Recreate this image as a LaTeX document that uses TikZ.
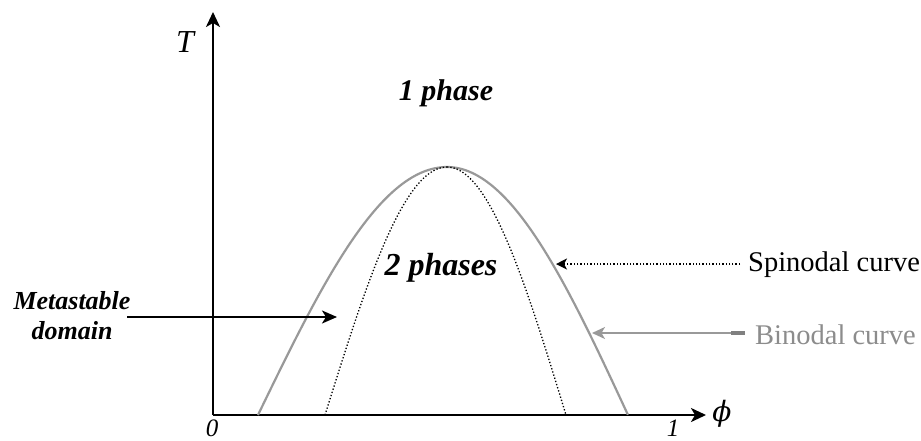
\documentclass[tikz,border=0pt]{standalone}
\usepackage{fontspec}
\setmainfont{Liberation Serif}
\newfontfamily\phifont{DejaVu Serif}
\usetikzlibrary{arrows.meta}
\definecolor{bingray}{gray}{0.6}
\definecolor{bintext}{gray}{0.55}
\tikzset{
  axis/.style={line width=2.2pt, black, -{Stealth[length=15pt,width=14pt,inset=4pt]}},
  bincurve/.style={line width=2.2pt, bingray},
  spincurve/.style={line width=1.3pt, black, dotted},
  lbl/.style={inner sep=0pt, font=\fontsize{30}{32}\selectfont\bfseries\itshape},
  side/.style={inner sep=0pt, font=\fontsize{28.5}{30}\selectfont},
  tick/.style={inner sep=0pt, font=\fontsize{25}{27}\selectfont\itshape},
}
\begin{document}
\begin{tikzpicture}[x=1pt,y=-1pt]
\useasboundingbox (0,0) rectangle (921,440);
% axes
\coordinate (O) at (213,415);
\coordinate (Ytip) at (213,12);
\coordinate (Xtip) at (706,415);
\draw[axis] (O) -- (Ytip);
\draw[axis] (O) -- (Xtip);
\node[inner sep=0pt, font=\fontsize{32}{34}\selectfont\itshape] (T) at (185,42) {T};
\node[inner sep=0pt, font=\fontsize{28}{30}\phifont\itshape] (phi) at (722,414) {ϕ};
\node[tick, anchor=base] (zero) at (212,436) {0};
\node[tick, anchor=base] (one) at (673,436) {1};
% binodal curve
\draw[bincurve] plot[domain=-1:0, samples=60, smooth] ({447+189*\x},{415-248*cos(90*\x)});
\draw[bincurve] plot[domain=0:1, samples=60, smooth] ({447+181*\x},{415-248*cos(90*\x)});
% spinodal curve
\draw[spincurve] plot[domain=-1:0, samples=60, smooth] ({447+122*\x},{415-248*cos(90*\x)});
\draw[spincurve] plot[domain=0:1, samples=60, smooth] ({447+119*\x},{415-248*cos(90*\x)});
% labels
\node[lbl] (onep) at (446,93) {1 phase};
\node[lbl, font=\fontsize{32}{34}\selectfont\bfseries\itshape] (two) at (441,268) {2 phases};
\node[lbl, align=center, font=\fontsize{26}{30}\selectfont\bfseries\itshape] (meta) at (72,316) {Metastable\\domain};
\node[side, anchor=west] (spin) at (748,265) {Spinodal curve};
\node[side, anchor=west, text=bintext] (bin) at (755,335) {Binodal curve};
% arrows
\coordinate (metaS) at (127,317);
\coordinate (metaT) at (337,317);
\draw[line width=2pt, -{Stealth[length=15pt,width=13pt,inset=4pt]}] (metaS) -- (metaT);
\coordinate (spinS) at (740,264);
\coordinate (spinT) at (556,264);
\draw[line width=1.3pt, dotted, -{Stealth[length=11pt,width=11pt,inset=3pt]}] (spinS) -- (spinT);
\coordinate (binS) at (745,333);
\coordinate (binM) at (731,333);
\coordinate (binT) at (592,333);
\draw[line width=1.6pt, bingray, -{Stealth[length=13pt,width=12pt,inset=3.5pt]}] (binS) -- (binT);
\draw[line width=3.5pt, gray] (binM) -- (binS);
\end{tikzpicture}
\end{document}
